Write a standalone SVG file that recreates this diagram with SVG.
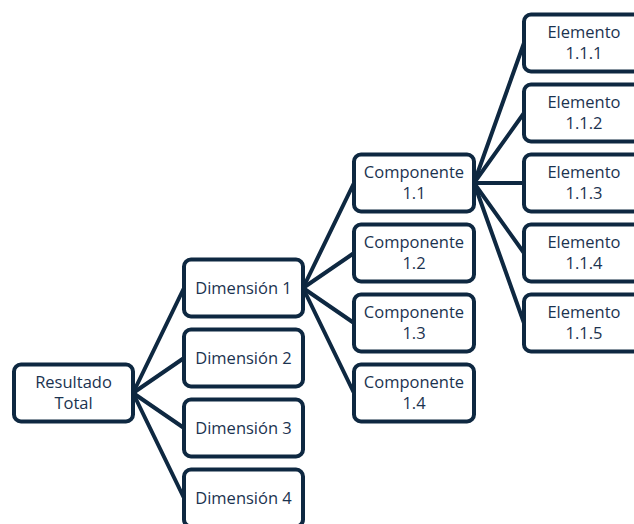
<svg xmlns="http://www.w3.org/2000/svg" width="634" height="524" viewBox="0 0 634 524">
  <style>
    .box { fill: #ffffff; stroke: #0e2841; stroke-width: 4; }
    .link { stroke: #0e2841; stroke-width: 4; fill: none; stroke-linecap: round; }
    .label { font-family: "Open Sans", "Liberation Sans", sans-serif; font-size: 16.5px; fill: #1b3350; text-anchor: middle; }
  </style>
  <rect width="634" height="524" fill="#ffffff"/>

  <!-- connectors: parent right-edge midpoint to child left-edge midpoint -->
  <g id="connectors">
    <line class="link" x1="133" y1="393" x2="184" y2="288"/>
    <line class="link" x1="133" y1="393" x2="184" y2="358"/>
    <line class="link" x1="133" y1="393" x2="184" y2="428"/>
    <line class="link" x1="133" y1="393" x2="184" y2="498"/>
    <line class="link" x1="303" y1="288" x2="354" y2="183"/>
    <line class="link" x1="303" y1="288" x2="354" y2="253"/>
    <line class="link" x1="303" y1="288" x2="354" y2="323"/>
    <line class="link" x1="303" y1="288" x2="354" y2="393"/>
    <line class="link" x1="474" y1="183" x2="524" y2="43"/>
    <line class="link" x1="474" y1="183" x2="524" y2="113"/>
    <line class="link" x1="474" y1="183" x2="524" y2="183"/>
    <line class="link" x1="474" y1="183" x2="524" y2="253"/>
    <line class="link" x1="474" y1="183" x2="524" y2="323"/>
  </g>

  <g id="resultado-total">
    <rect class="box" x="14" y="364.5" width="119" height="57" rx="7"/>
    <text class="label" x="73.5" y="387.5">Resultado</text>
    <text class="label" x="73.5" y="408.5">Total</text>
  </g>

  <g id="dimension-1">
    <rect class="box" x="184" y="259.5" width="119" height="57" rx="7"/>
    <text class="label" x="243.5" y="294">Dimensión 1</text>
  </g>
  <g id="dimension-2">
    <rect class="box" x="184" y="329.5" width="119" height="57" rx="7"/>
    <text class="label" x="243.5" y="364">Dimensión 2</text>
  </g>
  <g id="dimension-3">
    <rect class="box" x="184" y="399.5" width="119" height="57" rx="7"/>
    <text class="label" x="243.5" y="434">Dimensión 3</text>
  </g>
  <g id="dimension-4">
    <rect class="box" x="184" y="469.5" width="119" height="57" rx="7"/>
    <text class="label" x="243.5" y="504">Dimensión 4</text>
  </g>

  <g id="componente-1-1">
    <rect class="box" x="354" y="154.5" width="120" height="57" rx="7"/>
    <text class="label" x="414" y="178">Componente</text>
    <text class="label" x="414" y="199">1.1</text>
  </g>
  <g id="componente-1-2">
    <rect class="box" x="354" y="224.5" width="120" height="57" rx="7"/>
    <text class="label" x="414" y="248">Componente</text>
    <text class="label" x="414" y="269">1.2</text>
  </g>
  <g id="componente-1-3">
    <rect class="box" x="354" y="294.5" width="120" height="57" rx="7"/>
    <text class="label" x="414" y="318">Componente</text>
    <text class="label" x="414" y="339">1.3</text>
  </g>
  <g id="componente-1-4">
    <rect class="box" x="354" y="364.5" width="120" height="57" rx="7"/>
    <text class="label" x="414" y="388">Componente</text>
    <text class="label" x="414" y="409">1.4</text>
  </g>

  <g id="elemento-1-1-1">
    <rect class="box" x="524" y="14.5" width="120" height="57" rx="7"/>
    <text class="label" x="584" y="38">Elemento</text>
    <text class="label" x="584" y="59">1.1.1</text>
  </g>
  <g id="elemento-1-1-2">
    <rect class="box" x="524" y="84.5" width="120" height="57" rx="7"/>
    <text class="label" x="584" y="108">Elemento</text>
    <text class="label" x="584" y="129">1.1.2</text>
  </g>
  <g id="elemento-1-1-3">
    <rect class="box" x="524" y="154.5" width="120" height="57" rx="7"/>
    <text class="label" x="584" y="178">Elemento</text>
    <text class="label" x="584" y="199">1.1.3</text>
  </g>
  <g id="elemento-1-1-4">
    <rect class="box" x="524" y="224.5" width="120" height="57" rx="7"/>
    <text class="label" x="584" y="248">Elemento</text>
    <text class="label" x="584" y="269">1.1.4</text>
  </g>
  <g id="elemento-1-1-5">
    <rect class="box" x="524" y="294.5" width="120" height="57" rx="7"/>
    <text class="label" x="584" y="318">Elemento</text>
    <text class="label" x="584" y="339">1.1.5</text>
  </g>
</svg>
